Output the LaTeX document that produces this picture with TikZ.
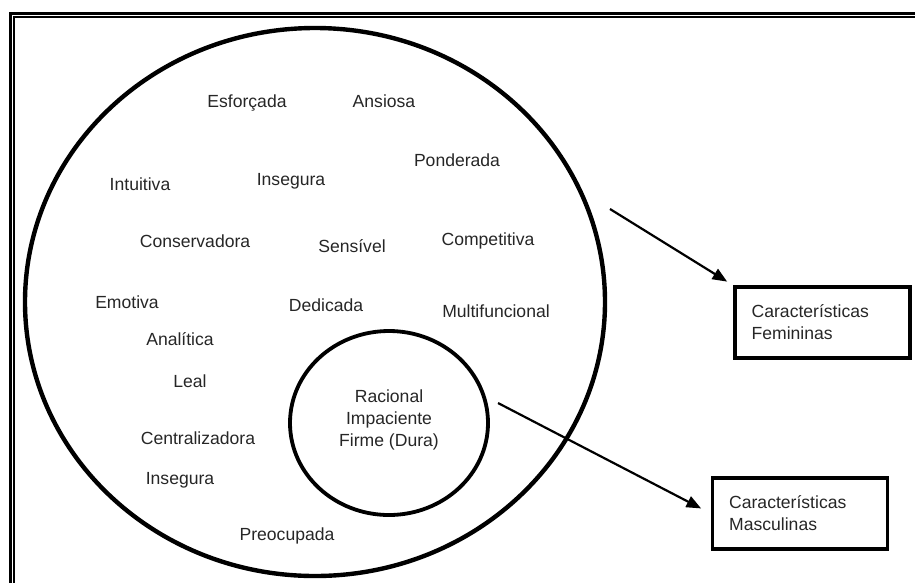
\documentclass[tikz,border=0pt]{standalone}
\usepackage{fontspec}
\setmainfont{Liberation Sans}
\usetikzlibrary{arrows.meta, positioning, calc}

\begin{document}
\begin{tikzpicture}[x=0.024cm, y=-0.024cm,
  trait/.style={font=\fontsize{12}{15}\selectfont, text=black!85, inner sep=0pt},
  ring/.style={draw, line width=3pt},
  charbox/.style={draw, line width=2.2pt, font=\fontsize{12}{15}\selectfont, text=black!85, align=left,
    text width=3.4cm, minimum height=1.7cm, inner xsep=0.4cm},
  pointer/.style={-{Triangle[length=10pt,width=8pt]}, line width=1.5pt}]
  \useasboundingbox (0,0) rectangle (915,583);

  % double frame (top and left only)
  \draw[line width=1.6pt] (915,13.5) -- (10.5,13.5) -- (10.5,583);
  \draw[line width=1.1pt] (915,17.2) -- (14,17.2) -- (14,583);

  % the two circles
  \draw[ring] (315,302) ellipse [x radius=290, y radius=274];
  \draw[ring, line width=2.6pt] (389,423) ellipse [x radius=99, y radius=92];

  % traits in the big circle
  \node[trait] (esforcada) at (247,103) {Esforçada};
  \node[trait] (ansiosa) at (384,101) {Ansiosa};
  \node[trait] (ponderada) at (457,160) {Ponderada};
  \node[trait] (intuitiva) at (140,184) {Intuitiva};
  \node[trait] (insegura) at (291,181) {Insegura};
  \node[trait] (conservadora) at (195,241) {Conservadora};
  \node[trait] (sensivel) at (352,246) {Sensível};
  \node[trait] (competitiva) at (488,241) {Competitiva};
  \node[trait] (emotiva) at (127,302) {Emotiva};
  \node[trait] (dedicada) at (326,305) {Dedicada};
  \node[trait] (multifuncional) at (496,311) {Multifuncional};
  \node[trait] (analitica) at (180,339) {Analítica};
  \node[trait] (leal) at (190,381) {Leal};
  \node[trait] (centralizadora) at (198,438) {Centralizadora};
  \node[trait] (inseguratwo) at (180,480) {Insegura};
  \node[trait] (preocupada) at (287,536) {Preocupada};

  % traits in the small circle
  \node[trait, align=center] (masctraits) at (389,420) {Racional\\Impaciente\\Firme (Dura)};

  % legend boxes
  \node[charbox] (fem) at (822.5,322.5) {Características\\Femininas};
  \node[charbox] (masc) at (800,513.5) {Características\\Masculinas};

  % arrows
  \coordinate (femfrom) at (610,209);
  \coordinate (mascfrom) at (498,403);
  \draw[pointer, shorten >=5pt] (femfrom) -- (fem.north west);
  \draw[pointer, shorten >=7.5pt] (mascfrom) -- (masc.west);
\end{tikzpicture}
\end{document}
